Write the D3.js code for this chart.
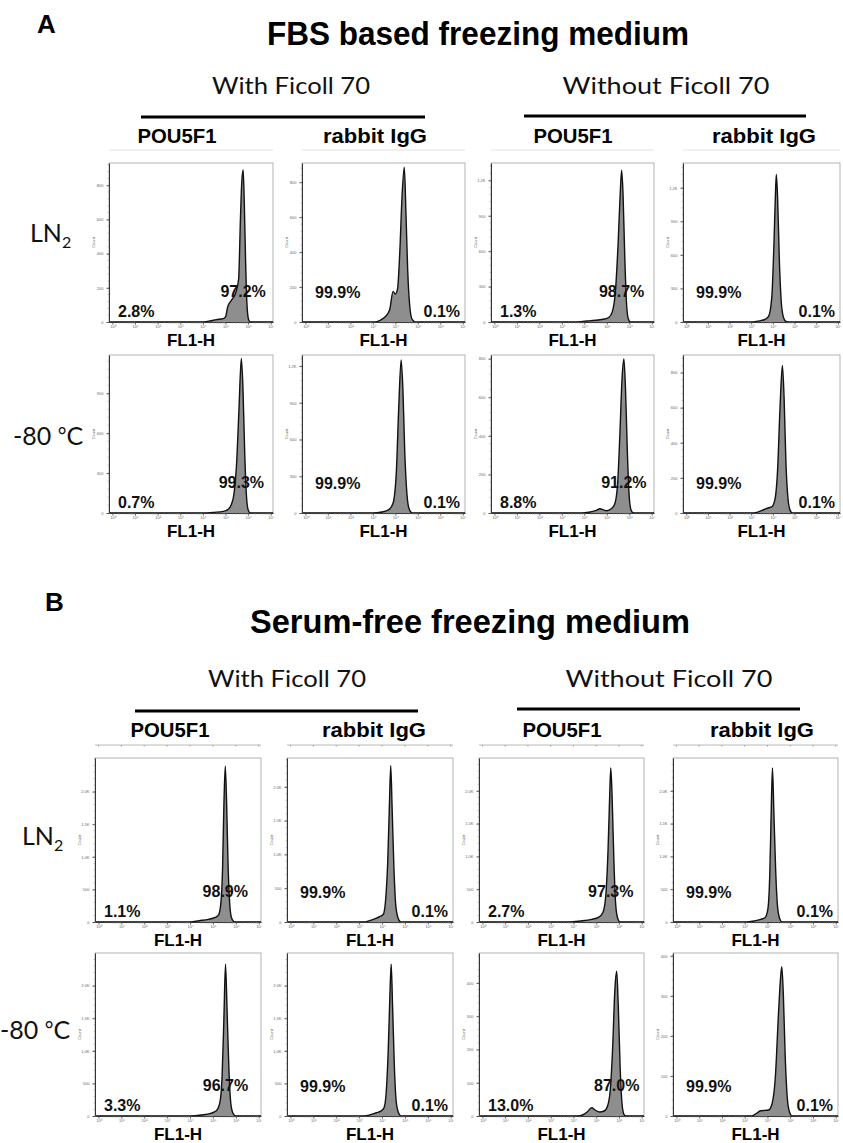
<!DOCTYPE html>
<html><head><meta charset="utf-8">
<script src="https://cdn.jsdelivr.net/npm/d3@7"></script>
<style>body{margin:0;background:#fff} svg{display:block}</style>
</head><body>
<svg id="c" width="843" height="1143"></svg>
<script>
// ---------------- DATA ----------------
const sectionLetters = ["A", "B"];
const sectionTitles = ["FBS based freezing medium", "Serum-free freezing medium"];
const groupLabels = ["With Ficoll 70", "Without Ficoll 70"];
const antibodyLabels = ["POU5F1", "rabbit IgG", "POU5F1", "rabbit IgG"];
const rowLabels = ["LN2", "-80 °C"];
const xAxisLabel = "FL1-H";
const yAxisLabel = "Count";
const xTickValues = [0, 1, 2, 3, 4, 5, 6, 7];            // log10 decades
const xTickLabels = ["10⁰", "10¹", "10²", "10³", "10⁴", "10⁵", "10⁶", "10⁷"];

// gate percentages [row][col]
const pctLeftA  = [["2.8%", "99.9%", "1.3%", "99.9%"], ["0.7%", "99.9%", "8.8%", "99.9%"]];
const pctRightA = [["97.2%", "0.1%", "98.7%", "0.1%"], ["99.3%", "0.1%", "91.2%", "0.1%"]];
const pctLeftB  = [["1.1%", "99.9%", "2.7%", "99.9%"], ["3.3%", "99.9%", "13.0%", "99.9%"]];
const pctRightB = [["98.9%", "0.1%", "97.3%", "0.1%"], ["96.7%", "0.1%", "87.0%", "0.1%"]];

// y-axis ticks and maxima [row][col]
const yTicksA = [[[0,200,400,600,800],[0,200,400,600,800],[0,300,600,900,1200],[0,300,600,900,1200]],
                 [[0,300,600,900],[0,300,600,900,1200],[0,200,400,600,800],[0,200,400,600,800]]];
const yMaxA   = [[930, 910, 1347, 1421], [1188, 1290, 819, 900]];
const yTicksB = [[[0,500,1000,1500,2000],[0,500,1000,1500,2000],[0,500,1000,1500,2000],[0,500,1000,1500,2000]],
                 [[0,500,1000,1500,2000],[0,500,1000,1500,2000],[0,100,200,300,400],[0,100,200,300,400]]];
const yMaxB   = [[2515, 2426, 2500, 2500], [2500, 2500, 490, 407]];

// histograms: [log10(FL1-H), count]
const hA_LN2_POU_with = [[-0.15,0],[3.9,0],[4.3,6],[4.6,14],[4.9,20],[5.0,30],[5.1,90],[5.25,125],[5.45,170],[5.58,250],[5.66,600],[5.72,820],[5.78,890],[5.83,700],[5.89,350],[5.95,100],[6.02,15],[6.1,0],[7.1,0]];
const hA_LN2_IgG_with = [[-0.15,0],[3.1,0],[3.3,8],[3.55,30],[3.75,70],[3.9,175],[4.0,160],[4.1,190],[4.2,400],[4.3,720],[4.4,886],[4.47,640],[4.55,300],[4.65,80],[4.75,15],[4.9,0],[7.1,0]];
const hA_LN2_POU_wo   = [[-0.15,0],[3.6,0],[4.1,8],[4.5,15],[4.9,25],[5.1,40],[5.25,90],[5.38,250],[5.5,650],[5.6,1100],[5.66,1286],[5.72,1100],[5.8,550],[5.88,150],[5.96,25],[6.05,0],[7.1,0]];
const hA_LN2_IgG_wo   = [[-0.15,0],[3.0,0],[3.3,8],[3.6,20],[3.8,50],[3.95,220],[4.05,700],[4.12,1150],[4.16,1319],[4.22,1100],[4.3,550],[4.4,150],[4.5,35],[4.6,5],[4.7,0],[7.1,0]];
const hA_80_POU_with  = [[-0.15,0],[4.0,0],[4.5,5],[4.9,12],[5.1,25],[5.25,60],[5.38,150],[5.5,400],[5.6,800],[5.7,1162],[5.77,950],[5.85,450],[5.93,120],[6.0,25],[6.1,0],[7.1,0]];
const hA_80_IgG_with  = [[-0.15,0],[3.0,0],[3.4,8],[3.7,25],[3.9,80],[4.05,350],[4.15,850],[4.26,1250],[4.34,1000],[4.42,500],[4.52,150],[4.62,30],[4.75,0],[7.1,0]];
const hA_80_POU_wo    = [[-0.15,0],[3.9,0],[4.2,4],[4.5,12],[4.7,22],[4.85,16],[5.0,12],[5.2,22],[5.35,45],[5.48,150],[5.58,400],[5.68,700],[5.76,798],[5.83,650],[5.92,300],[6.0,80],[6.08,15],[6.18,0],[7.1,0]];
const hA_80_IgG_wo    = [[-0.15,0],[3.0,0],[3.3,5],[3.6,20],[3.8,30],[3.95,35],[4.1,80],[4.22,250],[4.33,600],[4.44,840],[4.52,650],[4.6,300],[4.7,80],[4.8,15],[4.9,0],[7.1,0]];
const hB_LN2_POU_with = [[-0.15,0],[4.0,0],[4.4,20],[4.8,40],[5.1,70],[5.25,110],[5.35,300],[5.42,800],[5.48,1800],[5.54,2388],[5.6,1800],[5.66,900],[5.73,300],[5.8,80],[5.9,10],[6.0,0],[7.1,0]];
const hB_LN2_IgG_with = [[-0.15,0],[3.2,0],[3.45,20],[3.7,50],[3.9,80],[4.05,110],[4.15,300],[4.25,900],[4.32,1700],[4.38,2312],[4.44,1700],[4.52,800],[4.6,250],[4.7,60],[4.82,0],[7.1,0]];
const hB_LN2_POU_wo   = [[-0.15,0],[3.8,0],[4.3,15],[4.8,40],[5.1,70],[5.3,150],[5.42,400],[5.52,1100],[5.59,1900],[5.64,2350],[5.7,1900],[5.78,900],[5.86,250],[5.95,50],[6.05,0],[7.1,0]];
const hB_LN2_IgG_wo   = [[-0.15,0],[3.1,0],[3.4,15],[3.7,40],[3.9,70],[4.02,200],[4.1,700],[4.16,1600],[4.22,2350],[4.28,1700],[4.36,800],[4.44,250],[4.54,50],[4.64,0],[7.1,0]];
const hB_80_POU_with  = [[-0.15,0],[4.0,0],[4.5,15],[4.9,40],[5.15,80],[5.3,200],[5.4,600],[5.48,1500],[5.55,2330],[5.62,1600],[5.7,700],[5.78,200],[5.88,40],[6.0,0],[7.1,0]];
const hB_80_IgG_with  = [[-0.15,0],[3.2,0],[3.5,20],[3.75,50],[3.95,75],[4.08,120],[4.18,350],[4.27,1000],[4.34,1800],[4.4,2330],[4.46,1700],[4.54,750],[4.62,220],[4.72,50],[4.84,0],[7.1,0]];
const hB_80_POU_wo    = [[-0.15,0],[4.2,0],[4.4,3],[4.6,12],[4.8,25],[4.95,18],[5.15,12],[5.35,15],[5.5,30],[5.62,80],[5.72,200],[5.82,380],[5.9,435],[5.97,330],[6.05,150],[6.13,40],[6.22,5],[6.3,0],[7.1,0]];
const hB_80_IgG_wo    = [[-0.15,0],[3.3,0],[3.5,6],[3.7,13],[3.9,14],[4.05,15],[4.2,30],[4.35,100],[4.48,250],[4.57,340],[4.63,373],[4.7,300],[4.78,150],[4.88,40],[4.98,8],[5.08,0],[7.1,0]];

const histA = [[hA_LN2_POU_with, hA_LN2_IgG_with, hA_LN2_POU_wo, hA_LN2_IgG_wo],
               [hA_80_POU_with,  hA_80_IgG_with,  hA_80_POU_wo,  hA_80_IgG_wo]];
const histB = [[hB_LN2_POU_with, hB_LN2_IgG_with, hB_LN2_POU_wo, hB_LN2_IgG_wo],
               [hB_80_POU_with,  hB_80_IgG_with,  hB_80_POU_wo,  hB_80_IgG_wo]];

// ---------------- LAYOUT ----------------
const BOLD = "'Liberation Sans', Arial, Helvetica, sans-serif";
const CAL = "Lato, 'Open Sans', sans-serif";
const xDomain = [-0.15, 7.1];

const sections = [
  { letter: sectionLetters[0], title: sectionTitles[0], letterPos: [37, 33], titleX: 478, titleY: 45, titleLen: 422,
    groupY: 94, groupX: [291, 666], lines: [[141, 425, 117], [524, 806, 116]], headerY: 143,
    headerX: [177, 375, 573, 764], lefts: [109, 302, 491, 683], widths: [164, 163, 163, 157],
    tops: [163, 355], bottoms: [322, 513], rowLabelX: [30, 13], rowLabelY: [242, 445],
    guideY: 150, guideTicks: false,
    pctL: pctLeftA, pctR: pctRightA, yT: yTicksA, yM: yMaxA, hist: histA },
  { letter: sectionLetters[1], title: sectionTitles[1], letterPos: [45, 611], titleX: 470, titleY: 633, titleLen: 440,
    groupY: 687, groupX: [287, 669], lines: [[135, 418, 711], [517, 800, 709]], headerY: 737,
    headerX: [170, 374, 562, 762], lefts: [95, 287, 479, 673], widths: [166, 166, 165, 165],
    tops: [758, 953], bottoms: [922, 1116], rowLabelX: [22, 0], rowLabelY: [845, 1039],
    guideY: 745, guideTicks: true,
    pctL: pctLeftB, pctR: pctRightB, yT: yTicksB, yM: yMaxB, hist: histB }
];

const svg = d3.select("#c");
svg.append("rect").attr("width", 843).attr("height", 1143).attr("fill", "#fff");
const defs = svg.append("defs");
let clipId = 0;

function fmtCount(v) { return v >= 1000 ? (v / 1000).toFixed(1) + "K" : String(v); }

sections.forEach(S => {
  svg.append("text").attr("x", S.letterPos[0]).attr("y", S.letterPos[1])
    .attr("font-family", BOLD).attr("font-weight", "bold").attr("font-size", 26).text(S.letter);
  svg.append("text").attr("x", S.titleX).attr("y", S.titleY).attr("text-anchor", "middle")
    .attr("font-family", BOLD).attr("font-weight", "bold").attr("font-size", 33)
    .attr("textLength", S.titleLen).attr("lengthAdjust", "spacingAndGlyphs").text(S.title);
  groupLabels.forEach((g, i) => {
    svg.append("text").attr("x", S.groupX[i]).attr("y", S.groupY).attr("text-anchor", "middle")
      .attr("font-family", CAL).attr("font-size", 23).attr("fill", "#111")
      .attr("textLength", i === 0 ? 158 : 207).attr("lengthAdjust", "spacingAndGlyphs").text(g);
    const L = S.lines[i];
    svg.append("line").attr("x1", L[0]).attr("x2", L[1]).attr("y1", L[2]).attr("y2", L[2])
      .attr("stroke", "#000").attr("stroke-width", 3);
  });
  antibodyLabels.forEach((a, i) => {
    svg.append("text").attr("x", S.headerX[i]).attr("y", S.headerY).attr("text-anchor", "middle")
      .attr("font-family", BOLD).attr("font-weight", "bold").attr("font-size", 20)
      .attr("textLength", a === "POU5F1" ? 79 : 104).attr("lengthAdjust", "spacingAndGlyphs").text(a);
  });
  // row labels
  rowLabels.forEach((r, ri) => {
    const t = svg.append("text").attr("x", S.rowLabelX[ri]).attr("y", S.rowLabelY[ri])
      .attr("font-family", CAL).attr("font-size", 25).attr("fill", "#111");
    if (r === "LN2") {
      t.append("tspan").text("LN");
      t.append("tspan").attr("font-size", 16).attr("dy", 6).text("2");
    } else {
      t.append("tspan").text("-80 ");
      t.append("tspan").attr("font-size", 21).attr("dy", -2).text("°");
      t.append("tspan").attr("dy", 2).text("C");
    }
  });

  // guide line under headers
  S.lefts.forEach((left, ci) => {
    const w = S.widths[ci];
    const xs = d3.scaleLinear().domain(xDomain).range([left, left + w]);
    const gg = svg.append("g");
    gg.append("line").attr("x1", left).attr("x2", left + w).attr("y1", S.guideY).attr("y2", S.guideY)
      .attr("stroke", S.guideTicks ? "#bbb" : "#e2e2e2").attr("stroke-width", 1);
    if (S.guideTicks) {
      gg.selectAll("line.gt").data(xTickValues).join("line")
        .attr("x1", d => xs(d)).attr("x2", d => xs(d)).attr("y1", S.guideY).attr("y2", S.guideY + 1.5)
        .attr("stroke", "#999").attr("stroke-width", 1);
    }
  });

  for (let ri = 0; ri < 2; ri++) {
    for (let ci = 0; ci < 4; ci++) {
      const w = S.widths[ci];
      const left = S.lefts[ci], right = left + w, top = S.tops[ri], bottom = S.bottoms[ri];
      const xs = d3.scaleLinear().domain(xDomain).range([left, right]);
      const ys = d3.scaleLinear().domain([0, S.yM[ri][ci]]).range([bottom, top]);
      const g = svg.append("g");
      const id = "clip" + (clipId++);
      defs.append("clipPath").attr("id", id).append("rect")
        .attr("x", left).attr("y", top).attr("width", w).attr("height", bottom - top);
      // frame
      g.append("rect").attr("x", left).attr("y", top).attr("width", w).attr("height", bottom - top)
        .attr("fill", "#fff").attr("stroke", "#aaa").attr("stroke-width", 0.9);
      // histogram
      const data = S.hist[ri][ci];
      const area = d3.area().x(d => xs(d[0])).y0(bottom).y1(d => ys(d[1])).curve(d3.curveMonotoneX);
      const line = d3.line().x(d => xs(d[0])).y(d => ys(d[1])).curve(d3.curveMonotoneX);
      const hg = g.append("g").attr("clip-path", `url(#${id})`);
      hg.append("path").attr("d", area(data)).attr("fill", "#8e8e8e");
      hg.append("path").attr("d", line(data)).attr("fill", "none").attr("stroke", "#111").attr("stroke-width", 1.4);
      // x axis
      const xa = g.append("g").attr("transform", `translate(0,${bottom})`)
        .call(d3.axisBottom(xs).tickValues(xTickValues).tickSize(2.5).tickSizeOuter(0)
          .tickFormat((d, i) => xTickLabels[i]));
      xa.select(".domain").attr("stroke", "#333").attr("stroke-width", 1);
      xa.selectAll(".tick line").attr("stroke", "#555");
      xa.selectAll(".tick text").attr("font-size", 4).attr("fill", "#666").attr("dy", "0.2em").attr("font-family", BOLD);
      const minor = [];
      for (let k = 0; k < 7; k++) for (let m = 2; m < 10; m++) minor.push(k + Math.log10(m));
      xa.selectAll("line.mn").data(minor).join("line").attr("class", "mn")
        .attr("x1", d => xs(d)).attr("x2", d => xs(d)).attr("y1", 0).attr("y2", 1.5)
        .attr("stroke", "#777").attr("stroke-width", 0.6);
      // y axis
      const yt = S.yT[ri][ci];
      const ya = g.append("g").attr("transform", `translate(${left},0)`)
        .call(d3.axisLeft(ys).tickValues(yt).tickSize(2.5).tickSizeOuter(0).tickFormat(fmtCount));
      ya.select(".domain").attr("stroke", "#333").attr("stroke-width", 1);
      ya.selectAll(".tick line").attr("stroke", "#555");
      ya.selectAll(".tick text").attr("font-size", 4).attr("fill", "#666").attr("font-family", BOLD);
      const step = yt[1] - yt[0];
      const yMinor = [];
      for (let v = step / 5; v < S.yM[ri][ci]; v += step / 5) yMinor.push(v);
      ya.selectAll("line.mn").data(yMinor).join("line").attr("class", "mn")
        .attr("x1", 0).attr("x2", -1.4).attr("y1", d => ys(d)).attr("y2", d => ys(d))
        .attr("stroke", "#888").attr("stroke-width", 0.5);
      g.append("text").attr("transform", `translate(${left - 14},${(top + bottom) / 2}) rotate(-90)`)
        .attr("text-anchor", "middle").attr("font-size", 4).attr("fill", "#666").attr("font-family", BOLD)
        .text(yAxisLabel);
      // axis label
      g.append("text").attr("x", (left + right) / 2).attr("y", bottom + 24).attr("text-anchor", "middle")
        .attr("font-family", BOLD).attr("font-weight", "bold").attr("font-size", 17).text(xAxisLabel);
      // percentages
      const isPOU = antibodyLabels[ci] === "POU5F1";
      const peak = data.reduce((a, b) => (b[1] > a[1] ? b : a));
      const pct = g.append("g").attr("font-family", BOLD).attr("font-weight", "bold").attr("font-size", 16).attr("fill", "#111");
      if (isPOU) {
        pct.append("text").attr("x", left + 9).attr("y", bottom - 5).text(S.pctL[ri][ci]);
        pct.append("text").attr("x", xs(peak[0])).attr("y", bottom - 25).attr("text-anchor", "middle").text(S.pctR[ri][ci]);
      } else {
        pct.append("text").attr("x", left + 13).attr("y", bottom - 24).text(S.pctL[ri][ci]);
        pct.append("text").attr("x", Math.min(right - 5, 839)).attr("y", bottom - 5).attr("text-anchor", "end").text(S.pctR[ri][ci]);
      }
    }
  }
});
</script>
</body></html>
